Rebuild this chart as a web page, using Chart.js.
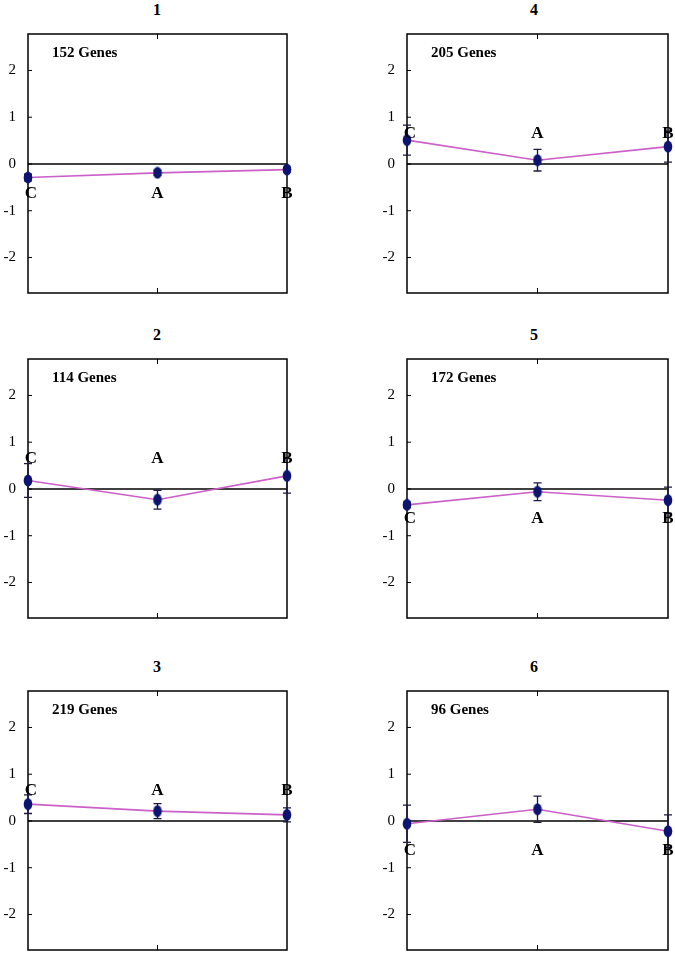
<!DOCTYPE html>
<html>
<head>
<meta charset="utf-8">
<script src="https://cdn.jsdelivr.net/npm/chart.js@4"></script>
<style>
  body { margin: 0; background: #fff; }
  #wrap { position: relative; width: 675px; height: 954px; }
  canvas.panel { position: absolute; }
  .ttl { position: absolute; width: 40px; text-align: center; font: bold 16px "Liberation Serif", serif; }
</style>
</head>
<body>
<div id="wrap"></div>
<script>
// categories in plotting order
const categories = ['C', 'A', 'B'];
const panelTitles = ['1', '2', '3', '4', '5', '6'];
const geneCounts = ['152 Genes', '114 Genes', '219 Genes', '205 Genes', '172 Genes', '96 Genes'];

// mean values per cluster (C, A, B)
const cluster1 = [-0.29, -0.19, -0.12];
const cluster2 = [0.18, -0.23, 0.28];
const cluster3 = [0.36, 0.21, 0.13];
const cluster4 = [0.51, 0.08, 0.37];
const cluster5 = [-0.34, -0.06, -0.24];
const cluster6 = [-0.06, 0.25, -0.22];

// error bar half-widths
const err1 = [0.07, 0.05, 0.05];
const err2 = [0.36, 0.2, 0.37];
const err3 = [0.2, 0.16, 0.15];
const err4 = [0.32, 0.23, 0.33];
const err5 = [0.06, 0.19, 0.28];
const err6 = [0.4, 0.28, 0.35];

const yTicks = [-2, -1, 0, 1, 2];

const values = [cluster1, cluster2, cluster3, cluster4, cluster5, cluster6];
const errors = [err1, err2, err3, err4, err5, err6];

// panel layout
const colX = [0, 379];
const rowTop = [34, 359, 691];
const padRight = [13, 11];

const navy = '#0d1470';
const lineCol = '#cc5fc8';

// ellipse marker
const mk = document.createElement('canvas');
mk.width = 10; mk.height = 13;
(function () {
  const c = mk.getContext('2d');
  c.fillStyle = navy;
  c.beginPath();
  c.ellipse(5, 6.5, 4.3, 6, 0, 0, Math.PI * 2);
  c.fill();
})();

const framePlugin = {
  id: 'frame',
  beforeDatasetsDraw(chart) {
    const { ctx, chartArea: a, scales: { x, y } } = chart;
    const idx = chart.options.plugins.frame.idx;
    ctx.save();
    ctx.strokeStyle = '#000';
    ctx.lineWidth = 1.5;
    ctx.strokeRect(a.left, a.top, a.right - a.left, a.bottom - a.top);
    // zero line
    const y0 = y.getPixelForValue(0);
    ctx.beginPath();
    ctx.moveTo(a.left, y0); ctx.lineTo(a.right, y0);
    ctx.stroke();
    // inward y ticks
    ctx.lineWidth = 1;
    yTicks.forEach(v => {
      const py = y.getPixelForValue(v);
      ctx.beginPath(); ctx.moveTo(a.left, py); ctx.lineTo(a.left + 4, py); ctx.stroke();
    });
    // centre ticks top and bottom
    const xm = x.getPixelForValue(1);
    ctx.beginPath();
    ctx.moveTo(xm, a.top); ctx.lineTo(xm, a.top + 5);
    ctx.moveTo(xm, a.bottom); ctx.lineTo(xm, a.bottom - 5);
    ctx.stroke();
    // error bars
    ctx.strokeStyle = '#1a1a40';
    ctx.lineWidth = 1.3;
    values[idx].forEach((v, i) => {
      const px = x.getPixelForValue(i);
      const hi = y.getPixelForValue(v + errors[idx][i]);
      const lo = y.getPixelForValue(v - errors[idx][i]);
      ctx.beginPath();
      ctx.moveTo(px, hi); ctx.lineTo(px, lo);
      ctx.moveTo(px - 4, hi); ctx.lineTo(px + 4, hi);
      ctx.moveTo(px - 4, lo); ctx.lineTo(px + 4, lo);
      ctx.stroke();
    });
    // gene count
    ctx.fillStyle = '#000';
    ctx.font = 'bold 15px "Liberation Serif", serif';
    ctx.textBaseline = 'middle';
    ctx.textAlign = 'left';
    ctx.fillText(geneCounts[idx], a.left + 24, a.top + 19);
    ctx.restore();
  },
  afterDatasetsDraw(chart) {
    const { ctx, scales: { x, y } } = chart;
    const idx = chart.options.plugins.frame.idx;
    const side = values[idx][0] >= 0 ? -1 : 1;
    const ly = y.getPixelForValue(0) + side * 30;
    ctx.save();
    ctx.fillStyle = '#000';
    ctx.font = 'bold 17px "Liberation Serif", serif';
    ctx.textAlign = 'center';
    ctx.textBaseline = 'middle';
    categories.forEach((c, i) => {
      ctx.fillText(c, x.getPixelForValue(i) + (i === 0 ? 3 : 0), ly);
    });
    ctx.restore();
  }
};

const wrap = document.getElementById('wrap');

values.forEach((vals, idx) => {
  const col = idx < 3 ? 0 : 1;
  const row = idx % 3;
  const cv = document.createElement('canvas');
  cv.className = 'panel';
  cv.width = 300; cv.height = 279;
  cv.style.left = colX[col] + 'px';
  cv.style.top = (rowTop[row] - 10) + 'px';
  cv.style.width = '300px'; cv.style.height = '279px';
  wrap.appendChild(cv);

  const t = document.createElement('div');
  t.className = 'ttl';
  t.textContent = panelTitles[idx];
  t.style.left = (col === 0 ? 137 : 514) + 'px';
  t.style.top = (rowTop[row] - 33) + 'px';
  wrap.appendChild(t);

  new Chart(cv, {
    type: 'line',
    data: {
      datasets: [{
        data: vals.map((v, i) => ({ x: i, y: v })),
        borderColor: lineCol,
        borderWidth: 1.6,
        pointStyle: mk,
        pointRadius: 5,
        tension: 0,
        clip: false
      }]
    },
    options: {
      responsive: false,
      animation: false,
      devicePixelRatio: 1,
      layout: { autoPadding: false, padding: { top: 10, bottom: 10, left: 0, right: padRight[col] } },
      plugins: {
        legend: { display: false },
        tooltip: { enabled: false },
        frame: { idx: idx }
      },
      scales: {
        x: { type: 'linear', min: 0, max: 2, display: false },
        y: {
          min: -2.76, max: 2.78,
          grid: { display: false, drawTicks: false },
          border: { display: false },
          ticks: {
            stepSize: 1,
            includeBounds: false,
            padding: 12,
            color: '#000',
            font: { family: '"Liberation Serif", serif', size: 15 }
          },
          afterFit(s) { s.width = 28; s.paddingTop = 0; s.paddingBottom = 0; }
        }
      }
    },
    plugins: [framePlugin]
  });
});
</script>
</body>
</html>
